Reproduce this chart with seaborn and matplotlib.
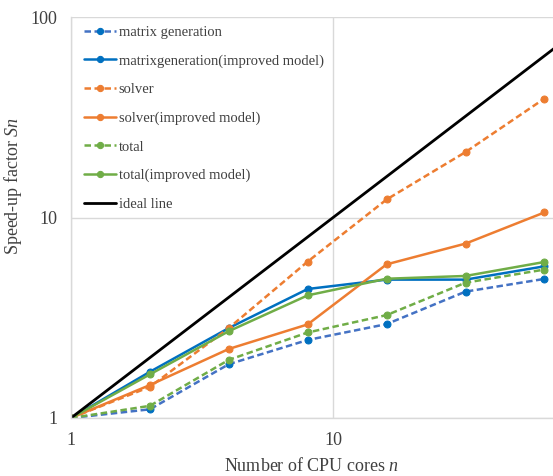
import matplotlib
matplotlib.use("Agg")
import matplotlib.pyplot as plt
import seaborn as sns
import pandas as pd
from matplotlib.ticker import FixedLocator, FixedFormatter, NullLocator

cores = [1, 2, 4, 8, 16, 32, 64]
matrix_gen = [1.0, 1.105, 1.855, 2.45, 2.94, 4.27, 4.94]
matrix_gen_improved = [1.0, 1.70, 2.81, 4.40, 4.90, 4.90, 5.71]
solver = [1.0, 1.43, 2.81, 6.03, 12.3, 21.2, 39.2]
solver_improved = [1.0, 1.46, 2.21, 2.93, 5.84, 7.41, 10.6]
total = [1.0, 1.15, 1.95, 2.67, 3.26, 4.73, 5.5]
total_improved = [1.0, 1.65, 2.71, 4.09, 4.95, 5.11, 6.0]
ideal_x = [1, 100]
ideal_y = [1, 100]

series = [
    ("matrix generation", matrix_gen, "#4472C4", "#0070C0", (0, (2.6, 1.4))),
    ("matrixgeneration(improved model)", matrix_gen_improved, "#0070C0", "#0070C0", "-"),
    ("solver", solver, "#ED7D31", "#ED7D31", (0, (2.6, 1.4))),
    ("solver(improved model)", solver_improved, "#ED7D31", "#ED7D31", "-"),
    ("total", total, "#70AD47", "#70AD47", (0, (2.6, 1.4))),
    ("total(improved model)", total_improved, "#70AD47", "#70AD47", "-"),
]

sns.set_theme(style="white")
plt.rcParams['font.family'] = ['Liberation Serif', 'DejaVu Serif']
plt.rcParams['mathtext.fontset'] = 'custom'
plt.rcParams['mathtext.rm'] = 'Liberation Serif'
plt.rcParams['mathtext.it'] = 'Liberation Serif:italic'

fig = plt.figure(figsize=(5.53, 4.76), dpi=100)
ax = fig.add_axes([71/553, 1 - 418/476, 1 - 71/553, (418 - 17)/476])

for name, vals, lc, mc, ls in series:
    df = pd.DataFrame({"n": cores, "S": vals})
    sns.lineplot(data=df, x="n", y="S", ax=ax, color=lc, linestyle=ls,
                 linewidth=1.8, marker="o", markersize=5,
                 markerfacecolor=mc, markeredgecolor=mc, label=name)

dfi = pd.DataFrame({"n": ideal_x, "S": ideal_y})
sns.lineplot(data=dfi, x="n", y="S", ax=ax, color="black", linewidth=2.0,
             label="ideal line")

ax.set_xscale("log")
ax.set_yscale("log")
ax.set_xlim(1, 69)
ax.set_ylim(1, 100)

ax.xaxis.set_major_locator(FixedLocator([1, 10]))
ax.xaxis.set_major_formatter(FixedFormatter(["1", "10"]))
ax.yaxis.set_major_locator(FixedLocator([1, 10, 100]))
ax.yaxis.set_major_formatter(FixedFormatter(["1", "10", "100"]))
ax.xaxis.set_minor_locator(NullLocator())
ax.yaxis.set_minor_locator(NullLocator())

ax.grid(True, which="major", color="#D9D9D9", linewidth=1.0)
ax.set_axisbelow(True)
for s in ["top", "right"]:
    ax.spines[s].set_visible(False)
for s in ["left", "bottom"]:
    ax.spines[s].set_color("#D9D9D9")
    ax.spines[s].set_linewidth(1.0)

ax.tick_params(axis="both", which="both", length=0, labelsize=13,
               colors="#404040", pad=10)

ax.set_xlabel("Number of CPU cores $\\mathit{n}$", fontsize=13, color="#404040",
              labelpad=6)
ax.set_ylabel("Speed-up factor $\\mathit{Sn}$", fontsize=13, color="#404040")
ax.yaxis.set_label_coords(-0.097, 0.58)

leg = ax.legend(loc="upper left", bbox_to_anchor=(0.008, 1.0), frameon=False,
                fontsize=10.5, handlelength=2.2, labelspacing=1.05,
                handletextpad=0.2, borderaxespad=0.25, borderpad=0.35,
                markerscale=0.9)
for t in leg.get_texts():
    t.set_color("#404040")

fig.savefig("out.png", dpi=100)
